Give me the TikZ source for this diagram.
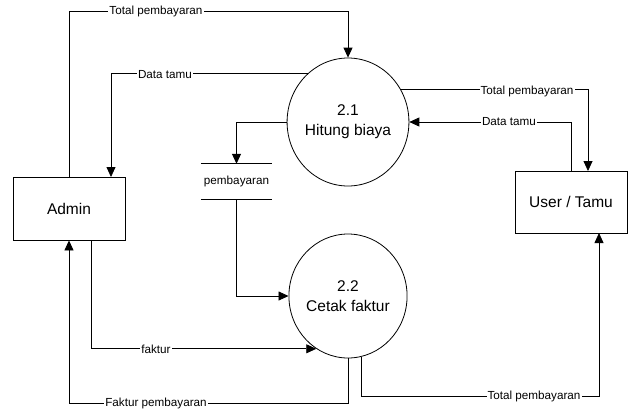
\documentclass[tikz,border=0pt]{standalone}
\usepackage{fontspec}
\setmainfont{Liberation Sans}
\usetikzlibrary{shapes.geometric,arrows.meta}

\tikzset{
    ent/.style={draw, rectangle, line width=0.8pt, minimum width=112pt, minimum height=63pt, inner sep=0pt, font=\fontsize{15.5}{20}\selectfont},
    proc/.style={draw, ellipse, line width=0.8pt, minimum width=112pt, inner sep=0pt, align=center, font=\fontsize{15.5}{20}\selectfont},
    lbl/.style={fill=white, inner sep=1pt, font=\fontsize{11.7}{12}\selectfont},
    flow/.style={line width=0.8pt, -{Triangle[length=10pt,width=9pt]}}
}

\begin{document}
\begin{tikzpicture}[x=1pt, y=-1pt]
    \useasboundingbox (0,0) rectangle (628,410);

    \node[ent] (admin) at (69,208.5) {Admin};
    \node[ent, minimum height=62pt] (user) at (571,202) {User / Tamu};
    \node[proc, minimum height=128pt] (p21) at (348,122) {2.1\\Hitung biaya};
    \node[proc, minimum height=124pt] (p22) at (348,296) {2.2\\Cetak faktur};
    \node[minimum width=71pt, minimum height=35pt, inner sep=0pt, font=\fontsize{11.7}{12}\selectfont] (store) at (236.5,181.5) {pembayaran};
    \draw[line width=0.8pt] (store.north west) -- (store.north east);
    \draw[line width=0.8pt] (store.south west) -- (store.south east);

    \coordinate (ttop) at (0,11);
    \coordinate (tbot) at (0,403);
    \coordinate (tbot2) at (0,396);
    \coordinate (ain) at (111,177);
    \coordinate (aout) at (91,240);
    \coordinate (uin) at (588,171);
    \coordinate (uin2) at (599,233);

    \draw[flow] (admin.north) |- (p21.north |- ttop) -- (p21.north);
    \draw[flow] (p21.129) -| (ain);
    \draw[flow] (p21.west) -| (store.north);
    \draw[flow] (store.south) |- (p22.west);
    \draw[flow] (p21.32) -| (uin);
    \draw[flow] (user.north) |- (p21.east);
    \draw[flow] (aout) |- (p22.239);
    \draw[flow] (p22.south) -- (p22.south |- tbot) -| (admin.south);
    \draw[flow] (p22.282) -- (p22.282 |- tbot2) -| (uin2);

    \node[lbl] at (156,11) {Total pembayaran};
    \node[lbl] at (165,75) {Data tamu};
    \node[lbl] at (527,91) {Total pembayaran};
    \node[lbl] at (509,122) {Data tamu};
    \node[lbl] at (156,349) {faktur};
    \node[lbl] at (156,403) {Faktur pembayaran};
    \node[lbl] at (534,396) {Total pembayaran};

\end{tikzpicture}
\end{document}
